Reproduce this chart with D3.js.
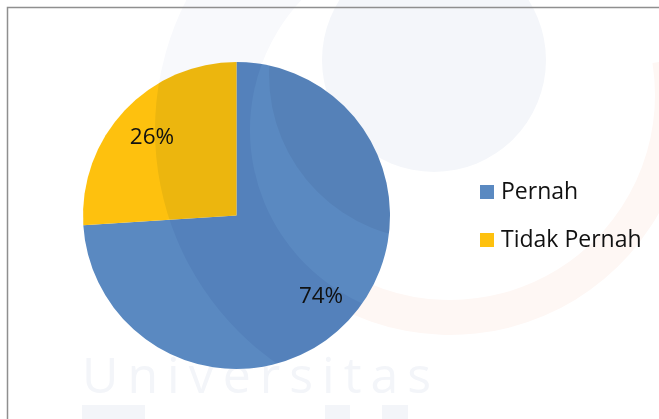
<!DOCTYPE html>
<html>
<head>
<meta charset="utf-8">
<script src="https://cdn.jsdelivr.net/npm/d3@7"></script>
<style>
  html, body { margin: 0; padding: 0; background: #fff; }
  svg { display: block; }
</style>
</head>
<body>
<script>
// data
const categories = ["Pernah", "Tidak Pernah"];
const shares = [74, 26];
const sliceColors = ["#5a89c1", "#fec10e"];

const width = 659, height = 419;
const cx = 236.5, cy = 215.5, radius = 153.5;

const svg = d3.select("body").append("svg")
  .attr("width", width)
  .attr("height", height);

// faint background watermark
const wm = svg.append("g").attr("class", "watermark");
wm.append("path")
  .attr("d", d3.arc()({innerRadius: 190, outerRadius: 285, startAngle: -Math.PI * 0.5, endAngle: Math.PI * 0.2}))
  .attr("transform", "translate(440,130)")
  .attr("fill", "#f8f9fc");
wm.append("circle").attr("cx", 434).attr("cy", 60).attr("r", 112).attr("fill", "#f4f6fa");
wm.append("path")
  .attr("d", d3.arc()({innerRadius: 205, outerRadius: 240, startAngle: Math.PI * 0.45, endAngle: Math.PI * 1.2}))
  .attr("transform", "translate(450,95)")
  .attr("fill", "#fef7f4");
wm.append("text")
  .attr("x", 82).attr("y", 393)
  .attr("font-family", "'Open Sans', sans-serif")
  .attr("font-size", 50)
  .attr("letter-spacing", 9)
  .attr("fill", "#f3f5f9")
  .text("Universitas");
wm.append("rect").attr("x", 82).attr("y", 405).attr("width", 63).attr("height", 14).attr("fill", "#f3f5f9");
wm.append("rect").attr("x", 325).attr("y", 405).attr("width", 25).attr("height", 14).attr("fill", "#f3f5f9");
wm.append("rect").attr("x", 382).attr("y", 405).attr("width", 26).attr("height", 14).attr("fill", "#f3f5f9");

// chart frame
svg.append("rect")
  .attr("x", 7.5).attr("y", 7.5)
  .attr("width", 800).attr("height", 600)
  .attr("fill", "none")
  .attr("stroke", "#8f8f8f")
  .attr("stroke-width", 1.5);

const color = d3.scaleOrdinal().domain(categories).range(sliceColors);

const pie = d3.pie().sort(null).value(d => d.value);
const arcs = pie(categories.map((c, i) => ({name: c, value: shares[i]})));

const arc = d3.arc().innerRadius(0).outerRadius(radius);
const labelArc = d3.arc().innerRadius(116).outerRadius(116);

const g = svg.append("g").attr("transform", `translate(${cx},${cy})`);

g.selectAll(".slice")
  .data(arcs)
  .join("path")
  .attr("class", "slice")
  .attr("d", arc)
  .attr("fill", d => color(d.data.name));

// watermark bands showing through the pie, kept inside the disc
svg.append("clipPath").attr("id", "pieclip")
  .append("circle").attr("cx", cx).attr("cy", cy).attr("r", radius);
const over = svg.append("g")
  .attr("clip-path", "url(#pieclip)")
  .style("mix-blend-mode", "multiply");
over.append("path")
  .attr("d", d3.arc()({innerRadius: 190, outerRadius: 285, startAngle: 0, endAngle: Math.PI * 2}))
  .attr("transform", "translate(440,130)")
  .attr("fill", "#edf1f8");
over.append("circle").attr("cx", 434).attr("cy", 75).attr("r", 165).attr("fill", "#f0f1f4");

g.selectAll(".pct")
  .data(arcs)
  .join("text")
  .attr("class", "pct")
  .attr("transform", d => `translate(${labelArc.centroid(d)})`)
  .attr("text-anchor", "middle")
  .attr("dy", "0.36em")
  .attr("font-family", "'Open Sans', sans-serif")
  .attr("font-size", 22.5)
  .attr("fill", "#111")
  .text(d => d.data.value + "%");

// legend
const legend = svg.append("g").attr("transform", "translate(480,185)");
const item = legend.selectAll("g")
  .data(categories)
  .join("g")
  .attr("transform", (d, i) => `translate(0,${i * 48})`);
item.append("rect")
  .attr("width", 14).attr("height", 14)
  .attr("fill", d => color(d));
item.append("text")
  .attr("x", 21).attr("y", 14)
  .attr("font-family", "'Open Sans', sans-serif")
  .attr("font-size", 23)
  .attr("fill", "#111")
  .text(d => d);
</script>
</body>
</html>
